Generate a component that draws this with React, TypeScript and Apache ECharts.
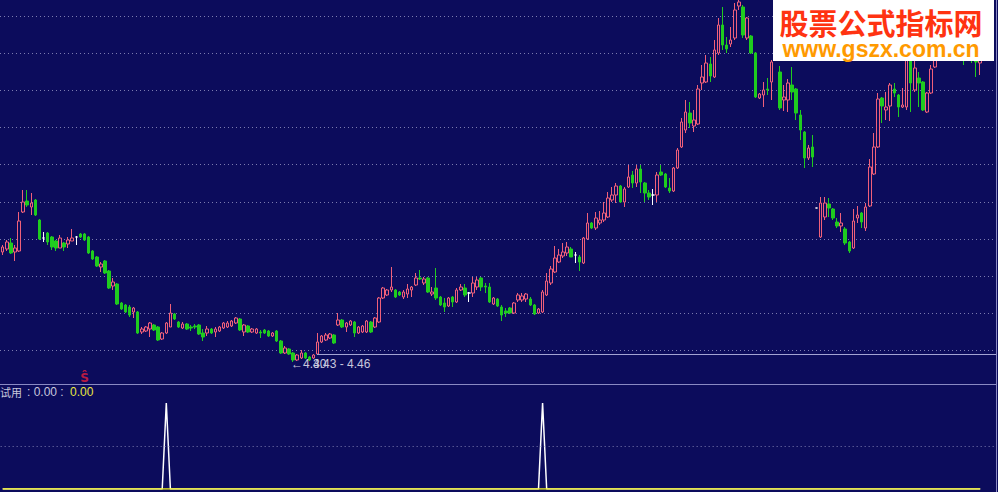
import React, { useEffect, useRef } from 'react';
import * as echarts from 'echarts';

// ---- price data (one entry per trading day) ----
const opens = [
  4.520, 4.526, 4.538, 4.520, 4.522, 4.600, 4.622, 4.610, 4.624, 4.584,
  4.548, 4.558, 4.550, 4.542, 4.528, 4.538, 4.536, 4.542, 4.550, 4.556,
  4.556, 4.550, 4.522, 4.510, 4.490, 4.502, 4.482, 4.452, 4.456, 4.418,
  4.414, 4.410, 4.400, 4.400, 4.360, 4.362, 4.366, 4.374, 4.370, 4.346,
  4.358, 4.370, 4.396, 4.380, 4.368, 4.376, 4.370, 4.372, 4.374, 4.358,
  4.358, 4.366, 4.360, 4.362, 4.368, 4.370, 4.372, 4.378, 4.386, 4.360,
  4.372, 4.360, 4.358, 4.360, 4.364, 4.362, 4.352, 4.362, 4.342, 4.318,
  4.326, 4.318, 4.304, 4.308, 4.318, 4.310, 4.308, 4.316, 4.340, 4.344,
  4.348, 4.354, 4.374, 4.384, 4.370, 4.374, 4.380, 4.358, 4.360, 4.360,
  4.380, 4.370, 4.380, 4.428, 4.434, 4.444, 4.444, 4.440, 4.430, 4.436,
  4.444, 4.454, 4.468, 4.458, 4.468, 4.436, 4.448, 4.430, 4.418, 4.412,
  4.430, 4.420, 4.444, 4.448, 4.438, 4.438, 4.450, 4.468, 4.452, 4.450,
  4.416, 4.426, 4.410, 4.402, 4.408, 4.398, 4.424, 4.424, 4.426, 4.426,
  4.414, 4.398, 4.400, 4.434, 4.458, 4.480, 4.500, 4.512, 4.518, 4.526,
  4.514, 4.510, 4.498, 4.546, 4.578, 4.568, 4.578, 4.584, 4.590, 4.624,
  4.634, 4.652, 4.620, 4.650, 4.674, 4.658, 4.686, 4.658, 4.638, 4.634,
  4.634, 4.680, 4.676, 4.648, 4.642, 4.688, 4.730, 4.764, 4.798, 4.772,
  4.776, 4.858, 4.860, 4.896, 4.870, 4.918, 4.974, 4.934, 4.936, 4.948,
  5.012, 5.010, 4.948, 4.952, 4.918, 4.828, 4.834, 4.846, 4.860, 4.914,
  4.880, 4.824, 4.824, 4.854, 4.846, 4.794, 4.760, 4.708, 4.730, 4.608,
  4.550, 4.590, 4.616, 4.606, 4.580, 4.572, 4.566, 4.540, 4.528, 4.588,
  4.598, 4.568, 4.612, 4.676, 4.730, 4.828, 4.804, 4.812, 4.846, 4.834,
  4.810, 4.810, 4.924, 4.844, 4.868, 4.860, 4.800, 4.838, 4.890, 4.914,
  4.940, 4.928, 4.960, 4.944, 4.968, 4.934, 4.914, 4.924, 4.934, 4.898,
];
const closes = [
  4.530, 4.540, 4.518, 4.528, 4.582, 4.620, 4.614, 4.618, 4.594, 4.546,
  4.548, 4.540, 4.530, 4.528, 4.548, 4.530, 4.544, 4.548, 4.550, 4.550,
  4.544, 4.518, 4.506, 4.492, 4.496, 4.478, 4.448, 4.460, 4.416, 4.406,
  4.400, 4.394, 4.408, 4.358, 4.366, 4.370, 4.378, 4.364, 4.344, 4.358,
  4.378, 4.398, 4.386, 4.370, 4.376, 4.366, 4.368, 4.370, 4.356, 4.350,
  4.366, 4.358, 4.366, 4.370, 4.378, 4.378, 4.382, 4.388, 4.364, 4.374,
  4.360, 4.366, 4.366, 4.358, 4.358, 4.352, 4.358, 4.342, 4.318, 4.328,
  4.316, 4.304, 4.314, 4.318, 4.308, 4.304, 4.314, 4.340, 4.352, 4.354,
  4.356, 4.338, 4.384, 4.370, 4.378, 4.382, 4.358, 4.370, 4.372, 4.382,
  4.360, 4.388, 4.428, 4.448, 4.444, 4.450, 4.430, 4.434, 4.440, 4.446,
  4.450, 4.468, 4.466, 4.466, 4.440, 4.440, 4.428, 4.414, 4.410, 4.428,
  4.420, 4.444, 4.450, 4.434, 4.438, 4.458, 4.464, 4.450, 4.450, 4.420,
  4.428, 4.412, 4.394, 4.398, 4.398, 4.418, 4.434, 4.432, 4.436, 4.414,
  4.396, 4.406, 4.440, 4.462, 4.486, 4.508, 4.514, 4.520, 4.530, 4.510,
  4.514, 4.500, 4.548, 4.578, 4.568, 4.588, 4.584, 4.598, 4.628, 4.634,
  4.652, 4.620, 4.646, 4.670, 4.658, 4.686, 4.660, 4.638, 4.630, 4.634,
  4.674, 4.674, 4.650, 4.642, 4.688, 4.724, 4.780, 4.800, 4.778, 4.784,
  4.846, 4.870, 4.898, 4.872, 4.924, 4.974, 4.934, 4.926, 4.944, 5.004,
  5.020, 4.954, 4.988, 4.918, 4.830, 4.836, 4.844, 4.844, 4.900, 4.954,
  4.808, 4.830, 4.858, 4.840, 4.798, 4.764, 4.708, 4.728, 4.710, 4.608,
  4.618, 4.618, 4.608, 4.588, 4.572, 4.578, 4.538, 4.522, 4.582, 4.594,
  4.580, 4.610, 4.690, 4.730, 4.826, 4.812, 4.810, 4.854, 4.838, 4.810,
  4.814, 4.934, 4.858, 4.888, 4.858, 4.804, 4.838, 4.886, 4.924, 4.944,
  4.920, 4.964, 4.934, 4.974, 4.924, 4.908, 4.944, 4.904, 4.900, 4.924,
];
const lows = [
  4.514, 4.522, 4.516, 4.502, 4.520, 4.598, 4.610, 4.594, 4.592, 4.544,
  4.540, 4.534, 4.524, 4.522, 4.528, 4.522, 4.528, 4.542, 4.534, 4.548,
  4.542, 4.516, 4.504, 4.490, 4.480, 4.476, 4.446, 4.444, 4.414, 4.404,
  4.398, 4.390, 4.388, 4.356, 4.356, 4.360, 4.350, 4.362, 4.342, 4.344,
  4.356, 4.370, 4.384, 4.368, 4.366, 4.364, 4.362, 4.366, 4.354, 4.342,
  4.352, 4.356, 4.350, 4.360, 4.366, 4.368, 4.370, 4.376, 4.362, 4.352,
  4.358, 4.358, 4.356, 4.348, 4.356, 4.350, 4.350, 4.340, 4.316, 4.316,
  4.314, 4.300, 4.302, 4.306, 4.306, 4.302, 4.306, 4.314, 4.338, 4.342,
  4.346, 4.336, 4.372, 4.368, 4.360, 4.372, 4.350, 4.356, 4.358, 4.358,
  4.358, 4.368, 4.378, 4.426, 4.432, 4.440, 4.428, 4.432, 4.426, 4.428,
  4.430, 4.452, 4.464, 4.454, 4.438, 4.432, 4.424, 4.412, 4.400, 4.410,
  4.410, 4.418, 4.442, 4.430, 4.420, 4.430, 4.444, 4.442, 4.438, 4.418,
  4.414, 4.410, 4.382, 4.390, 4.396, 4.396, 4.420, 4.420, 4.420, 4.412,
  4.394, 4.396, 4.398, 4.432, 4.454, 4.478, 4.498, 4.508, 4.512, 4.510,
  4.498, 4.482, 4.496, 4.544, 4.566, 4.564, 4.574, 4.580, 4.588, 4.620,
  4.618, 4.618, 4.610, 4.648, 4.648, 4.650, 4.638, 4.620, 4.624, 4.614,
  4.620, 4.672, 4.648, 4.638, 4.640, 4.686, 4.728, 4.758, 4.768, 4.760,
  4.774, 4.844, 4.858, 4.860, 4.868, 4.914, 4.924, 4.918, 4.930, 4.944,
  5.004, 4.948, 4.944, 4.916, 4.828, 4.826, 4.810, 4.834, 4.824, 4.908,
  4.804, 4.802, 4.800, 4.824, 4.784, 4.744, 4.688, 4.704, 4.690, 4.608,
  4.548, 4.584, 4.590, 4.584, 4.568, 4.560, 4.534, 4.518, 4.526, 4.578,
  4.568, 4.562, 4.610, 4.674, 4.728, 4.778, 4.784, 4.782, 4.830, 4.790,
  4.808, 4.804, 4.800, 4.840, 4.810, 4.802, 4.798, 4.836, 4.888, 4.910,
  4.914, 4.924, 4.928, 4.934, 4.914, 4.894, 4.908, 4.898, 4.870, 4.874,
];
const highs = [
  4.534, 4.544, 4.548, 4.534, 4.600, 4.644, 4.644, 4.638, 4.626, 4.586,
  4.560, 4.560, 4.552, 4.544, 4.554, 4.540, 4.550, 4.566, 4.552, 4.558,
  4.558, 4.552, 4.524, 4.512, 4.500, 4.504, 4.484, 4.468, 4.458, 4.420,
  4.416, 4.414, 4.410, 4.402, 4.370, 4.372, 4.380, 4.376, 4.372, 4.360,
  4.380, 4.416, 4.398, 4.382, 4.380, 4.378, 4.374, 4.376, 4.376, 4.366,
  4.372, 4.368, 4.370, 4.372, 4.380, 4.382, 4.384, 4.390, 4.388, 4.376,
  4.374, 4.368, 4.368, 4.364, 4.366, 4.364, 4.360, 4.364, 4.344, 4.332,
  4.328, 4.320, 4.316, 4.324, 4.320, 4.312, 4.316, 4.358, 4.354, 4.358,
  4.358, 4.356, 4.398, 4.386, 4.380, 4.384, 4.382, 4.372, 4.374, 4.384,
  4.382, 4.390, 4.430, 4.450, 4.446, 4.490, 4.446, 4.442, 4.444, 4.456,
  4.452, 4.478, 4.484, 4.470, 4.470, 4.450, 4.488, 4.432, 4.428, 4.430,
  4.432, 4.448, 4.456, 4.456, 4.440, 4.470, 4.470, 4.470, 4.458, 4.458,
  4.430, 4.428, 4.414, 4.408, 4.410, 4.420, 4.438, 4.438, 4.438, 4.430,
  4.416, 4.408, 4.444, 4.478, 4.492, 4.532, 4.526, 4.538, 4.540, 4.530,
  4.520, 4.514, 4.550, 4.598, 4.580, 4.600, 4.602, 4.620, 4.640, 4.650,
  4.658, 4.654, 4.650, 4.694, 4.682, 4.694, 4.694, 4.660, 4.644, 4.646,
  4.680, 4.694, 4.678, 4.668, 4.690, 4.728, 4.788, 4.824, 4.820, 4.804,
  4.854, 4.894, 4.914, 4.910, 4.944, 4.988, 5.010, 4.950, 4.970, 5.018,
  5.024, 5.014, 4.990, 4.954, 4.920, 4.838, 4.860, 4.868, 4.904, 4.964,
  4.892, 4.854, 4.866, 4.890, 4.848, 4.804, 4.762, 4.734, 4.754, 4.608,
  4.630, 4.630, 4.628, 4.608, 4.588, 4.598, 4.570, 4.542, 4.606, 4.612,
  4.600, 4.618, 4.706, 4.758, 4.838, 4.830, 4.840, 4.858, 4.858, 4.836,
  4.848, 4.944, 4.934, 4.914, 4.880, 4.862, 4.840, 4.894, 4.934, 4.954,
  4.948, 4.972, 4.968, 4.984, 4.974, 4.944, 4.954, 4.934, 4.944, 4.934,
];

// indicator ("试用") hits, sell-signal days, texts
const signalHits = [40, 132];
const sellSignals = [20];
const indicatorName = '试用';
const indicatorValues = ['0.00', '0.00'];
const rangeText = '4.43 - 4.46';
const slotCount = 243; // trading-day slots shown (last 3 empty)
const priceMin = 4.256;
const priceMax = 5.024;
const sellMarkPrice = 4.268;

const BG = '#0c0c5c';
const UP = '#f0607a';
const DOWN = '#1fcc1f';
const GRIDC = '#7c7cb0';
const TEXTC = '#c8c8dc';

export default function App() {
  const ref = useRef<HTMLDivElement>(null);
  useEffect(() => {
    const chart = echarts.init(ref.current as HTMLDivElement, null, { renderer: 'svg' });
    const categories = Array.from({ length: slotCount }, (_, i) => String(i + 1));
    const candleData = opens.map((o, i) => [o, closes[i], lows[i], highs[i]]);
    const minLow = Math.min(...lows);
    const lowIdx = lows.indexOf(minLow);
    const signalSeries = opens.map((_, i) => (signalHits.includes(i) ? 1 : 0));
    const baseSeries = opens.map(() => 0);
    const step = 4.09;
    const gl = 0.655;
    const gw = slotCount * step;

    const option: any = {
      animation: false,
      backgroundColor: BG,
      grid: [
        { left: gl, width: gw, top: 0, height: 384 },
        { left: gl, width: gw, top: 403, height: 86 },
        { left: 0, width: 996, top: 16, height: 334.5 },
      ],
      xAxis: [
        { type: 'category', data: categories, gridIndex: 0, show: false },
        { type: 'category', data: categories, gridIndex: 1, show: false },
        { type: 'value', gridIndex: 2, min: 0, max: 1, show: false },
      ],
      yAxis: [
        { type: 'value', gridIndex: 0, min: priceMin, max: priceMax, show: false },
        { type: 'value', gridIndex: 1, min: 0, max: 1, show: false },
        {
          type: 'value', gridIndex: 2, min: 0, max: 9, interval: 1,
          axisLine: { show: false }, axisTick: { show: false }, axisLabel: { show: false },
          splitLine: { show: true, lineStyle: { color: GRIDC, type: [1, 3], width: 1 } },
        },
      ],
      series: [
        { type: 'line', xAxisIndex: 2, yAxisIndex: 2, data: [], silent: true },
        {
          type: 'candlestick', xAxisIndex: 0, yAxisIndex: 0, data: candleData, barWidth: 3,
          itemStyle: {
            color: BG, color0: DOWN, borderColor: UP, borderColor0: DOWN,
            borderColorDoji: '#ffffff', borderWidth: 1,
          },
          markPoint: {
            symbol: 'circle', symbolSize: 0, silent: true,
            data: [{ coord: [categories[lowIdx], minLow] }],
            label: {
              show: true, position: 'right', distance: 0, offset: [-2, 2],
              formatter: '\u2190' + minLow.toFixed(2), color: TEXTC,
              fontSize: 12, fontFamily: 'Liberation Sans',
            },
          },
        },
        {
          type: 'scatter', xAxisIndex: 0, yAxisIndex: 0, symbolSize: 0, silent: true,
          data: sellSignals.map((i) => [categories[i], sellMarkPrice]),
          label: {
            show: true, position: 'inside', formatter: '\u015C', color: '#e8203a',
            fontSize: 12, fontWeight: 'bold', fontFamily: 'DejaVu Sans',
          },
        },
        {
          type: 'line', xAxisIndex: 1, yAxisIndex: 1, data: signalSeries, symbol: 'none',
          lineStyle: { color: '#ffffff', width: 1.5 }, silent: true,
          markLine: {
            symbol: 'none', silent: true, label: { show: false },
            lineStyle: { color: GRIDC, type: [1, 3], width: 1 },
            data: [{ yAxis: 0.5 }],
          },
        },
        {
          type: 'line', xAxisIndex: 1, yAxisIndex: 1, data: baseSeries, symbol: 'none',
          lineStyle: { color: '#f0f020', width: 1.5 }, silent: true,
        },
      ],
      graphic: [
        { type: 'line', z: 50, shape: { x1: 0, y1: 384.5, x2: 996, y2: 384.5 }, style: { stroke: '#8a8ac4', lineWidth: 1 } },
        { type: 'line', z: 50, shape: { x1: 317, y1: 354.5, x2: 996, y2: 354.5 }, style: { stroke: '#a4a4d4', lineWidth: 1 } },
        { type: 'line', z: 50, shape: { x1: 996.5, y1: 0, x2: 996.5, y2: 492 }, style: { stroke: '#8a8ac4', lineWidth: 1 } },
        {
          type: 'text', z: 50, x: 313, y: 364,
          style: { text: rangeText, fill: TEXTC, font: '12px "Liberation Sans"', textVerticalAlign: 'middle' },
        },
        {
          type: 'text', z: 50, x: 0, y: 392,
          style: { text: indicatorName, fill: TEXTC, font: '11px "Noto Sans CJK SC"', textVerticalAlign: 'middle' },
        },
        {
          type: 'text', z: 50, x: 27, y: 392,
          style: { text: ': ' + indicatorValues[0] + ' :', fill: TEXTC, font: '12px "Liberation Sans"', textVerticalAlign: 'middle' },
        },
        {
          type: 'text', z: 50, x: 70, y: 392,
          style: { text: indicatorValues[1], fill: '#e8e83c', font: '12px "Liberation Sans"', textVerticalAlign: 'middle' },
        },
        {
          type: 'group', z: 100,
          children: [
            { type: 'rect', z: 100, shape: { x: 773, y: 0, width: 221, height: 61 }, style: { fill: '#ffffff' } },
            {
              type: 'text', z: 101, x: 881, y: 21.5,
              style: { text: '股票公式指标网', fill: '#ff3311', font: 'bold 29px "Noto Sans CJK SC"', textAlign: 'center', textVerticalAlign: 'middle' },
            },
            {
              type: 'text', z: 101, x: 881, y: 48.5,
              style: { text: 'www.gszx.com.cn', fill: '#ff9a00', font: 'bold 23px "Liberation Sans"', textAlign: 'center', textVerticalAlign: 'middle' },
            },
          ],
        },
      ],
    };
    chart.setOption(option);
    return () => chart.dispose();
  }, []);
  return <div ref={ref} style={{ position: 'fixed', left: 0, top: 0, width: 998, height: 492 }} />;
}
